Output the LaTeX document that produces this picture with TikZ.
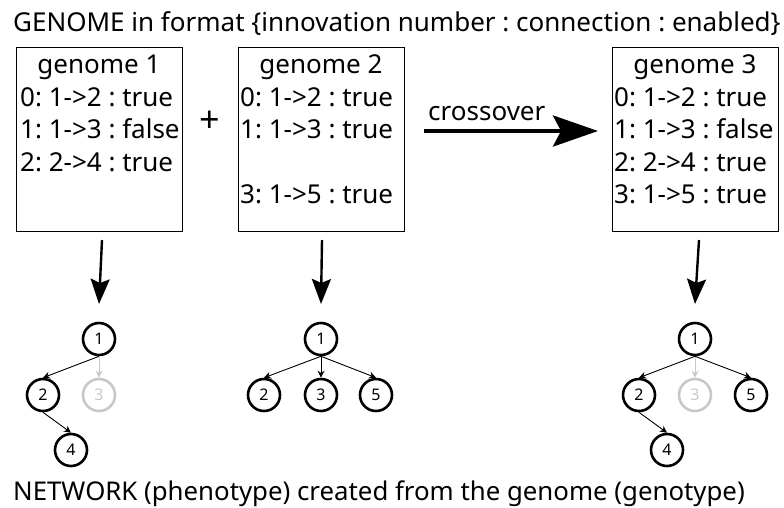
\documentclass[tikz,border=0pt]{standalone}
\usepackage{fontspec}
\setmainfont{Noto Sans}
\usetikzlibrary{arrows.meta}
\definecolor{offgray}{HTML}{C8C8C8}
\frenchspacing

\begin{document}
\begin{tikzpicture}[x=1pt,y=-1pt,
  txt/.style={font=\fontsize{26}{30}\selectfont, inner sep=0pt},
  line/.style={txt, anchor=base west},
  head/.style={txt, anchor=base},
  genebox/.style={draw, line width=1pt, rectangle, inner sep=0pt},
  neuron/.style={circle, draw, line width=2.6pt, minimum size=32pt, inner sep=0pt,
                 font=\fontsize{16}{18}\selectfont},
  offneuron/.style={neuron, draw=offgray, text=offgray},
  link/.style={line width=0.9pt, -{Stealth[length=7pt,width=7pt]}},
  offlink/.style={link, draw=offgray},
  express/.style={line width=2.4pt, -{Stealth[length=25pt,width=19pt,inset=4pt]}},
  cross/.style={line width=4pt, -{Stealth[length=45pt,width=31pt,inset=8pt]}}
]
\useasboundingbox (0,0) rectangle (784,507);

% captions
\node[line] (title) at (13,31) {GENOME in format \{innovation number : connection : enabled\}};
\node[line, font=\fontsize{25.8}{30}\selectfont] (foot) at (13,500) {NETWORK (phenotype) created from the genome (genotype)};

% genome boxes
\node[genebox, minimum width=166pt, minimum height=184pt] (g1) at (99,139) {};
\node[genebox, minimum width=166pt, minimum height=184pt] (g2) at (321,139) {};
\node[genebox, minimum width=166pt, minimum height=184pt] (g3) at (695,139) {};

% genome 1
\node[head] (g1h) at (99,73) {genome 1};
\node[line] (g1a) at (20,106) {0: 1->2 : true};
\node[line] (g1b) at (20,138) {1: 1->3 : false};
\node[line] (g1c) at (20,171) {2: 2->4 : true};

% genome 2
\node[head] (g2h) at (321,73) {genome 2};
\node[line] (g2a) at (240,106) {0: 1->2 : true};
\node[line] (g2b) at (240,138) {1: 1->3 : true};
\node[line] (g2d) at (240,203) {3: 1->5 : true};

% genome 3
\node[head] (g3h) at (695,73) {genome 3};
\node[line] (g3a) at (614,106) {0: 1->2 : true};
\node[line] (g3b) at (614,138) {1: 1->3 : false};
\node[line] (g3c) at (614,171) {2: 2->4 : true};
\node[line] (g3d) at (614,203) {3: 1->5 : true};

% plus sign and crossover arrow
\node[txt, font=\fontsize{36}{40}\selectfont] (plus) at (210,122) {+};
\coordinate (xs) at (424,131);
\coordinate (xe) at (598,131);
\draw[cross] (xs) -- (xe);
\node[line] (xlab) at (428,120) {crossover};

% genome -> network arrows
\coordinate (d1s) at (102,240); \coordinate (d1e) at (99,304);
\coordinate (d2s) at (322,240); \coordinate (d2e) at (321,304);
\coordinate (d3s) at (699,240); \coordinate (d3e) at (695,304);
\draw[express] (d1s) -- (d1e);
\draw[express] (d2s) -- (d2e);
\draw[express] (d3s) -- (d3e);

% network 1
\node[neuron] (a1) at (99,339) {1};
\node[neuron] (a2) at (43,395) {2};
\node[offneuron] (a3) at (99,395) {3};
\node[neuron] (a4) at (71,450) {4};
\draw[link] (a1.south) -- (a2.north);
\draw[offlink] (a1.south) -- (a3.north);
\draw[link] (a2.south) -- (a4.north);

% network 2
\node[neuron] (b1) at (321,339) {1};
\node[neuron] (b2) at (264,395) {2};
\node[neuron] (b3) at (321,395) {3};
\node[neuron] (b5) at (376,395) {5};
\draw[link] (b1.south) -- (b2.north);
\draw[link] (b1.south) -- (b3.north);
\draw[link] (b1.south) -- (b5.north);

% network 3
\node[neuron] (c1) at (695,339) {1};
\node[neuron] (c2) at (639,395) {2};
\node[offneuron] (c3) at (695,395) {3};
\node[neuron] (c5) at (751,395) {5};
\node[neuron] (c4) at (667,450) {4};
\draw[link] (c1.south) -- (c2.north);
\draw[offlink] (c1.south) -- (c3.north);
\draw[link] (c1.south) -- (c5.north);
\draw[link] (c2.south) -- (c4.north);
\end{tikzpicture}
\end{document}
